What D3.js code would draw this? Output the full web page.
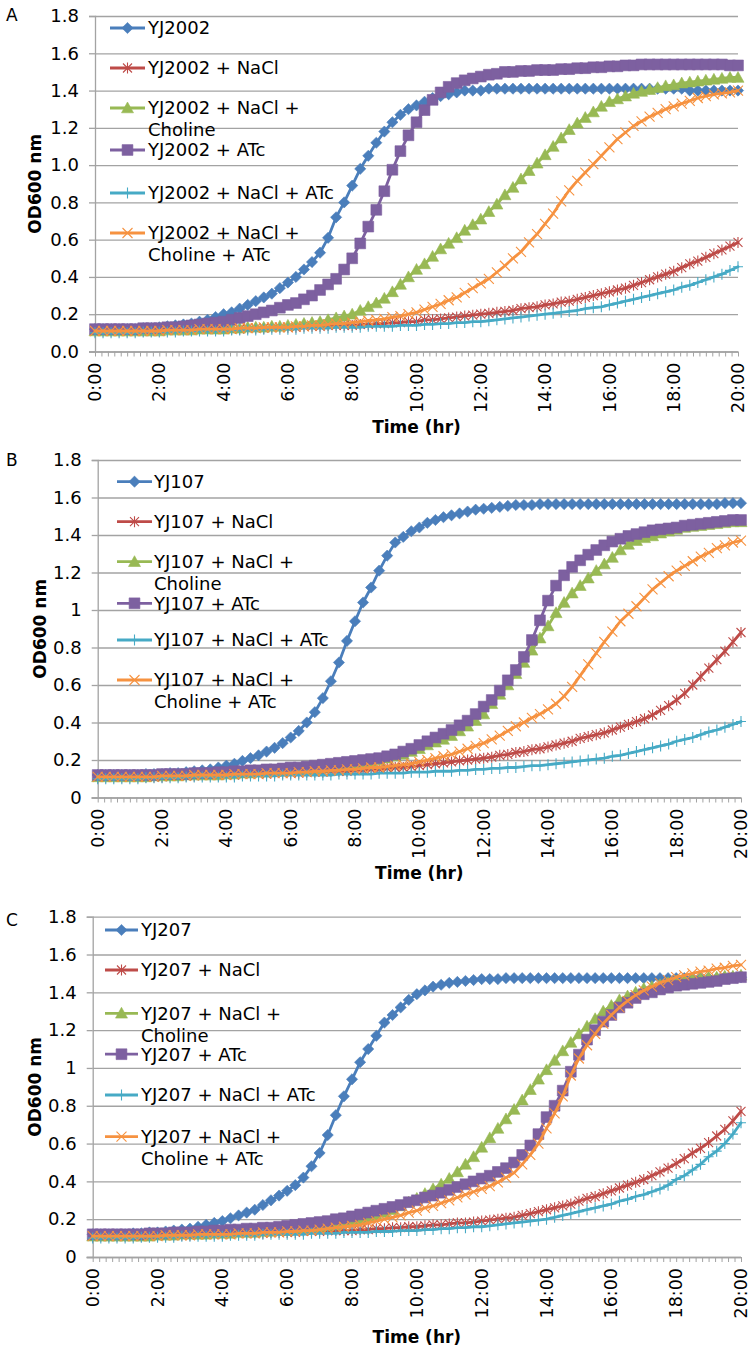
<!DOCTYPE html>
<html><head><meta charset="utf-8">
<script src="https://cdn.jsdelivr.net/npm/d3@7"></script>
<style>body{margin:0;background:#fff} svg{display:block} text{font-family:"DejaVu Sans",Verdana,sans-serif;fill:#000}</style>
</head><body><svg id="c" width="751" height="1352"></svg>
<script>
// ---------- data ----------
const timeLabels = ["0:00","2:00","4:00","6:00","8:00","10:00","12:00","14:00","16:00","18:00","20:00"];
const labelHours = [0,2,4,6,8,10,12,14,16,18,20];
const yTicks = [0,0.2,0.4,0.6,0.8,1,1.2,1.4,1.6,1.8];
const strains = ["YJ2002","YJ107","YJ207"];
const panelLetters = ["A","B","C"];
const legendSuffixes = [[""],[" + NaCl"],[" + NaCl +","Choline"],[" + ATc"],[" + NaCl + ATc"],[" + NaCl +","Choline + ATc"]];
// readings every 15 min, 0:00 .. 20:00
const times = d3.range(81).map(i => i * 0.25);

const a_base = [0.12,
0.12,0.12,0.12,0.12, 0.12,0.125,0.125,0.13, 0.135,0.14,0.145,0.15, 0.16,0.17,0.185,0.20,
0.21,0.23,0.25,0.27, 0.29,0.31,0.34,0.37, 0.40,0.44,0.48,0.53, 0.61,0.72,0.80,0.89,
0.98,1.05,1.12,1.18, 1.23,1.27,1.30,1.32, 1.34,1.36,1.37,1.38, 1.39,1.40,1.40,1.40,
1.41,1.41,1.41,1.41, 1.41,1.41,1.41,1.41, 1.41,1.41,1.41,1.41, 1.41,1.41,1.41,1.41,
1.41,1.41,1.41,1.41, 1.41,1.41,1.41,1.41, 1.41,1.40,1.40,1.40, 1.40,1.40,1.40,1.40];
const a_nacl = [0.11,
0.11,0.11,0.11,0.11, 0.11,0.11,0.11,0.11, 0.115,0.115,0.115,0.115, 0.12,0.12,0.12,0.12,
0.12,0.12,0.125,0.125, 0.125,0.13,0.13,0.13, 0.13,0.135,0.135,0.135, 0.14,0.14,0.14,0.14,
0.145,0.145,0.15,0.15, 0.155,0.155,0.16,0.16, 0.17,0.17,0.175,0.18, 0.185,0.19,0.195,0.20,
0.205,0.21,0.215,0.22, 0.23,0.235,0.24,0.25, 0.255,0.265,0.27,0.28, 0.29,0.30,0.31,0.32,
0.33,0.34,0.355,0.37, 0.385,0.40,0.415,0.43, 0.45,0.47,0.485,0.505, 0.525,0.545,0.565,0.585];
const a_nacl_chol = [0.11,
0.11,0.11,0.11,0.11, 0.11,0.11,0.11,0.11, 0.115,0.115,0.115,0.115, 0.12,0.12,0.12,0.12,
0.125,0.125,0.13,0.13, 0.13,0.135,0.135,0.14, 0.145,0.15,0.155,0.16, 0.17,0.18,0.19,0.20,
0.22,0.24,0.26,0.285, 0.32,0.36,0.40,0.44, 0.47,0.51,0.55,0.58, 0.61,0.65,0.68,0.71,
0.75,0.79,0.84,0.88, 0.925,0.97,1.01,1.055, 1.10,1.145,1.19,1.225, 1.255,1.285,1.315,1.34,
1.355,1.37,1.385,1.395, 1.405,1.415,1.425,1.43, 1.44,1.445,1.45,1.455, 1.46,1.465,1.47,1.47];
const a_atc = [0.12,
0.12,0.12,0.12,0.12, 0.12,0.125,0.125,0.125, 0.13,0.13,0.135,0.14, 0.145,0.15,0.155,0.16,
0.17,0.18,0.19,0.20, 0.21,0.22,0.235,0.25, 0.26,0.28,0.30,0.33, 0.36,0.39,0.44,0.50,
0.58,0.67,0.76,0.86, 0.975,1.075,1.16,1.23, 1.295,1.35,1.39,1.42, 1.44,1.455,1.465,1.475,
1.485,1.49,1.50,1.50, 1.505,1.505,1.51,1.51, 1.51,1.515,1.515,1.52, 1.52,1.525,1.525,1.53,
1.53,1.535,1.535,1.54, 1.54,1.54,1.54,1.54, 1.54,1.54,1.54,1.54, 1.54,1.54,1.535,1.535];
const a_nacl_atc = [0.10,
0.10,0.10,0.10,0.10, 0.10,0.105,0.105,0.105, 0.105,0.105,0.11,0.11, 0.11,0.11,0.11,0.11,
0.115,0.115,0.115,0.115, 0.12,0.12,0.12,0.12, 0.12,0.125,0.125,0.125, 0.125,0.13,0.13,0.13,
0.13,0.135,0.135,0.135, 0.135,0.14,0.14,0.14, 0.145,0.145,0.15,0.15, 0.155,0.155,0.16,0.16,
0.165,0.17,0.175,0.18, 0.185,0.19,0.195,0.20, 0.205,0.21,0.215,0.22, 0.23,0.235,0.24,0.25,
0.26,0.27,0.28,0.29, 0.30,0.31,0.32,0.33, 0.345,0.355,0.37,0.385, 0.40,0.415,0.435,0.455];
const a_nacl_chol_atc = [0.11,
0.11,0.11,0.11,0.11, 0.11,0.11,0.11,0.11, 0.115,0.115,0.115,0.115, 0.12,0.12,0.12,0.12,
0.12,0.125,0.125,0.125, 0.13,0.13,0.13,0.13, 0.135,0.135,0.14,0.14, 0.145,0.15,0.15,0.155,
0.16,0.165,0.17,0.175, 0.185,0.19,0.20,0.21, 0.225,0.24,0.255,0.275, 0.29,0.315,0.34,0.365,
0.39,0.425,0.46,0.50, 0.535,0.585,0.63,0.685, 0.74,0.805,0.865,0.915, 0.96,1.005,1.05,1.095,
1.14,1.175,1.21,1.235, 1.26,1.28,1.30,1.315, 1.33,1.345,1.36,1.37, 1.38,1.385,1.39,1.40];

const b_base = [0.12,
0.12,0.12,0.12,0.12, 0.12,0.125,0.125,0.125, 0.13,0.13,0.135,0.14, 0.145,0.15,0.16,0.17,
0.18,0.195,0.21,0.225, 0.245,0.265,0.29,0.32, 0.355,0.40,0.455,0.53, 0.62,0.72,0.835,0.94,
1.04,1.12,1.21,1.29, 1.36,1.39,1.42,1.44, 1.465,1.48,1.495,1.505, 1.515,1.525,1.535,1.54,
1.545,1.55,1.555,1.56, 1.56,1.56,1.565,1.565, 1.565,1.565,1.565,1.565, 1.565,1.565,1.565,1.565,
1.565,1.565,1.565,1.565, 1.565,1.565,1.565,1.565, 1.565,1.565,1.565,1.565, 1.565,1.57,1.57,1.57];
const b_nacl = [0.11,
0.11,0.11,0.11,0.11, 0.11,0.11,0.11,0.11, 0.115,0.115,0.115,0.115, 0.12,0.12,0.12,0.12,
0.12,0.125,0.125,0.125, 0.125,0.13,0.13,0.13, 0.13,0.135,0.135,0.135, 0.14,0.14,0.14,0.145,
0.145,0.15,0.15,0.155, 0.16,0.16,0.165,0.17, 0.175,0.18,0.185,0.19, 0.195,0.20,0.205,0.21,
0.215,0.225,0.23,0.24, 0.245,0.255,0.26,0.27, 0.28,0.29,0.30,0.315, 0.325,0.335,0.345,0.36,
0.375,0.39,0.405,0.42, 0.44,0.465,0.49,0.52, 0.555,0.60,0.645,0.69, 0.735,0.78,0.83,0.88];
const b_nacl_chol = [0.11,
0.11,0.11,0.11,0.11, 0.11,0.11,0.115,0.115, 0.115,0.115,0.12,0.12, 0.12,0.12,0.12,0.125,
0.125,0.13,0.13,0.135, 0.135,0.14,0.14,0.145, 0.15,0.15,0.155,0.16, 0.165,0.17,0.175,0.18,
0.185,0.19,0.20,0.21, 0.22,0.23,0.245,0.26, 0.28,0.295,0.31,0.33, 0.355,0.38,0.41,0.445,
0.50,0.55,0.60,0.66, 0.72,0.785,0.85,0.915, 0.985,1.04,1.09,1.13, 1.17,1.21,1.245,1.28,
1.32,1.35,1.37,1.385, 1.395,1.41,1.42,1.43, 1.44,1.445,1.45,1.455, 1.46,1.465,1.47,1.47];
const b_atc = [0.12,
0.12,0.12,0.12,0.12, 0.12,0.12,0.12,0.125, 0.125,0.125,0.125,0.13, 0.13,0.13,0.135,0.135,
0.14,0.14,0.145,0.145, 0.15,0.15,0.155,0.16, 0.16,0.165,0.17,0.175, 0.18,0.185,0.19,0.195,
0.20,0.205,0.21,0.22, 0.23,0.245,0.26,0.28, 0.30,0.32,0.34,0.36, 0.385,0.41,0.445,0.485,
0.52,0.57,0.625,0.68, 0.75,0.84,0.945,1.05, 1.13,1.185,1.23,1.265, 1.295,1.32,1.345,1.365,
1.38,1.395,1.405,1.415, 1.425,1.43,1.435,1.44, 1.45,1.455,1.46,1.465, 1.47,1.475,1.48,1.48];
const b_nacl_atc = [0.10,
0.10,0.10,0.10,0.10, 0.10,0.105,0.105,0.105, 0.105,0.105,0.11,0.11, 0.11,0.11,0.11,0.11,
0.11,0.115,0.115,0.115, 0.115,0.115,0.12,0.12, 0.12,0.12,0.12,0.12, 0.12,0.125,0.125,0.125,
0.125,0.125,0.13,0.13, 0.13,0.13,0.135,0.135, 0.135,0.14,0.14,0.14, 0.145,0.145,0.15,0.15,
0.155,0.155,0.16,0.16, 0.165,0.17,0.17,0.175, 0.18,0.185,0.19,0.195, 0.20,0.205,0.21,0.22,
0.225,0.235,0.245,0.255, 0.265,0.275,0.285,0.30, 0.31,0.32,0.335,0.35, 0.36,0.375,0.39,0.405];
const b_nacl_chol_atc = [0.11,
0.11,0.11,0.11,0.11, 0.11,0.11,0.11,0.115, 0.115,0.115,0.115,0.12, 0.12,0.12,0.12,0.12,
0.125,0.125,0.125,0.125, 0.13,0.13,0.13,0.13, 0.135,0.135,0.14,0.14, 0.145,0.145,0.15,0.15,
0.155,0.16,0.16,0.165, 0.17,0.175,0.18,0.19, 0.20,0.21,0.22,0.23, 0.245,0.26,0.275,0.29,
0.31,0.33,0.355,0.38, 0.40,0.425,0.445,0.47, 0.50,0.54,0.59,0.65, 0.71,0.77,0.83,0.885,
0.94,0.98,1.02,1.065, 1.11,1.145,1.18,1.21, 1.235,1.26,1.285,1.305, 1.33,1.345,1.36,1.37];

const c_base = [0.12,
0.12,0.12,0.12,0.12, 0.125,0.125,0.13,0.13, 0.135,0.14,0.145,0.15, 0.16,0.17,0.18,0.19,
0.205,0.22,0.235,0.25, 0.275,0.30,0.325,0.35, 0.38,0.42,0.48,0.55, 0.645,0.75,0.85,0.94,
1.03,1.10,1.17,1.24, 1.28,1.32,1.36,1.39, 1.41,1.43,1.44,1.45, 1.455,1.46,1.465,1.47,
1.47,1.47,1.475,1.475, 1.475,1.475,1.475,1.475, 1.475,1.475,1.475,1.475, 1.475,1.475,1.475,1.475,
1.475,1.475,1.475,1.475, 1.475,1.475,1.475,1.475, 1.475,1.475,1.475,1.475, 1.475,1.48,1.48,1.48];
const c_nacl = [0.11,
0.11,0.11,0.11,0.11, 0.11,0.11,0.11,0.11, 0.115,0.115,0.115,0.115, 0.12,0.12,0.12,0.12,
0.12,0.125,0.125,0.125, 0.125,0.13,0.13,0.13, 0.13,0.135,0.135,0.135, 0.14,0.14,0.14,0.14,
0.145,0.145,0.15,0.15, 0.155,0.155,0.16,0.16, 0.165,0.17,0.17,0.175, 0.18,0.18,0.185,0.19,
0.195,0.20,0.205,0.21, 0.22,0.23,0.24,0.25, 0.26,0.27,0.28,0.295, 0.31,0.32,0.335,0.35,
0.365,0.38,0.395,0.41, 0.43,0.45,0.47,0.495, 0.52,0.55,0.575,0.605, 0.64,0.675,0.72,0.77];
const c_nacl_chol = [0.11,
0.11,0.11,0.11,0.11, 0.11,0.11,0.11,0.115, 0.115,0.115,0.12,0.12, 0.12,0.12,0.125,0.125,
0.125,0.13,0.13,0.13, 0.135,0.135,0.14,0.14, 0.145,0.15,0.155,0.16, 0.165,0.17,0.18,0.19,
0.20,0.21,0.22,0.235, 0.25,0.27,0.29,0.31, 0.335,0.36,0.385,0.415, 0.45,0.49,0.53,0.58,
0.63,0.68,0.73,0.78, 0.83,0.885,0.94,0.99, 1.04,1.09,1.135,1.18, 1.22,1.26,1.30,1.33,
1.36,1.38,1.40,1.42, 1.43,1.44,1.45,1.46, 1.465,1.47,1.475,1.48, 1.48,1.485,1.485,1.49];
const c_atc = [0.12,
0.12,0.12,0.12,0.12, 0.12,0.12,0.125,0.125, 0.125,0.13,0.13,0.13, 0.135,0.135,0.14,0.14,
0.145,0.145,0.15,0.15, 0.155,0.155,0.16,0.165, 0.17,0.175,0.18,0.185, 0.19,0.20,0.205,0.215,
0.225,0.235,0.245,0.255, 0.265,0.275,0.29,0.30, 0.315,0.325,0.34,0.355, 0.37,0.385,0.40,0.415,
0.43,0.45,0.47,0.50, 0.54,0.59,0.65,0.74, 0.80,0.88,0.98,1.07, 1.15,1.20,1.245,1.28,
1.32,1.345,1.37,1.39, 1.40,1.415,1.425,1.435, 1.44,1.445,1.45,1.455, 1.46,1.47,1.475,1.48];
const c_nacl_atc = [0.10,
0.10,0.10,0.10,0.10, 0.10,0.105,0.105,0.105, 0.105,0.105,0.11,0.11, 0.11,0.11,0.11,0.11,
0.115,0.115,0.115,0.115, 0.12,0.12,0.12,0.12, 0.12,0.12,0.125,0.125, 0.125,0.125,0.13,0.13,
0.13,0.13,0.135,0.135, 0.135,0.14,0.14,0.14, 0.145,0.145,0.15,0.15, 0.155,0.155,0.16,0.16,
0.165,0.17,0.175,0.18, 0.185,0.19,0.195,0.20, 0.21,0.22,0.23,0.24, 0.25,0.26,0.27,0.28,
0.295,0.305,0.32,0.33, 0.345,0.36,0.38,0.41, 0.43,0.46,0.49,0.53, 0.56,0.60,0.65,0.71];
const c_nacl_chol_atc = [0.11,
0.11,0.11,0.11,0.11, 0.11,0.11,0.11,0.11, 0.115,0.115,0.115,0.115, 0.12,0.12,0.12,0.12,
0.12,0.125,0.125,0.125, 0.13,0.13,0.13,0.135, 0.135,0.14,0.14,0.145, 0.15,0.155,0.16,0.165,
0.17,0.18,0.19,0.20, 0.21,0.22,0.235,0.245, 0.26,0.27,0.285,0.30, 0.315,0.33,0.345,0.36,
0.375,0.395,0.42,0.445, 0.49,0.54,0.60,0.68, 0.76,0.85,0.96,1.05, 1.12,1.18,1.235,1.28,
1.32,1.355,1.385,1.41, 1.43,1.45,1.465,1.48, 1.49,1.50,1.51,1.515, 1.525,1.53,1.54,1.545];

const panelSeries = [
  [a_base, a_nacl, a_nacl_chol, a_atc, a_nacl_atc, a_nacl_chol_atc],
  [b_base, b_nacl, b_nacl_chol, b_atc, b_nacl_atc, b_nacl_chol_atc],
  [c_base, c_nacl, c_nacl_chol, c_atc, c_nacl_atc, c_nacl_chol_atc]
];

// ---------- layout / style ----------
const layouts = [
  {left:95, right:738, top:16, bottom:351.5, letter:[6,21], yTitleX:35, xTitleDy:76, yFmt:d3.format(".1f"),
   leg:{x1:110, x2:145, tx:148, offs:[12,52,92,134,177,217]}},
  {left:97.7, right:741, top:460, bottom:797.5, letter:[6,466], yTitleX:40, xTitleDy:76, yFmt:d3.format("~g"),
   leg:{x1:117, x2:152, tx:154, offs:[21.7,61.7,101.7,143.3,180,220]}},
  {left:92.7, right:741, top:916.7, bottom:1257, letter:[6,926], yTitleX:35, xTitleDy:80, yFmt:d3.format("~g"),
   leg:{x1:105, x2:138, tx:141, offs:[13.3,53.3,96.6,137.5,178.3,220]}}
];
const colors = ["#4A7EBB","#BE4B48","#98B954","#7D60A0","#46AAC5","#F69240"];
const markers = [
  {d:"M0,-5.6L5.6,0L0,5.6L-5.6,0Z", fill:true},
  {d:"M-4.5,-4.5L4.5,4.5M-4.5,4.5L4.5,-4.5M0,-5.5V5.5", fill:false},
  {d:"M0,-6L6,4.8L-6,4.8Z", fill:true},
  {d:"M-5.4,-5.4H5.4V5.4H-5.4Z", fill:true},
  {d:"M0,-5.5V5.5M-5,0H5", fill:false},
  {d:"M-5,-5L5,5M-5,5L5,-5", fill:false}
];
const gridColor = "#a3a3a3";

const svg = d3.select("#c");

layouts.forEach((L, pi) => {
  const g = svg.append("g");
  const x = d3.scaleLinear().domain([0,20]).range([L.left, L.right]);
  const y = d3.scaleLinear().domain([0,1.8]).range([L.bottom, L.top]);
  const w = L.right - L.left;

  // gridlines
  const grid = g.append("g").attr("transform", `translate(${L.left},0)`)
    .call(d3.axisLeft(y).tickValues(yTicks).tickSize(-w).tickFormat(""));
  grid.select(".domain").remove();
  grid.selectAll("line").attr("stroke", gridColor).attr("stroke-width", 1.3);
  const yAx = g.append("g").attr("transform", `translate(${L.left},0)`)
    .call(d3.axisLeft(y).tickValues(yTicks).tickSize(6).tickPadding(10).tickFormat(L.yFmt));
  yAx.select(".domain").attr("stroke", gridColor).attr("stroke-width", 1.3);
  yAx.selectAll("line").attr("stroke", gridColor).attr("stroke-width", 1.3);
  yAx.selectAll("text").attr("font-size", 18).attr("fill", "#000")
     .style("font-family", '"DejaVu Sans",Verdana,sans-serif');

  // x axis: minor ticks
  const xMinor = g.append("g").attr("transform", `translate(0,${L.bottom})`)
    .call(d3.axisBottom(x).tickValues(d3.range(0, 20.001, 0.2)).tickSize(5).tickFormat(""));
  xMinor.select(".domain").attr("stroke", gridColor).attr("stroke-width", 1.3).attr("d", `M${L.left-6},0.5H${L.right}`);
  xMinor.selectAll("line").attr("stroke", gridColor).attr("stroke-width", 1);
  // x labels
  const xLab = g.append("g").attr("transform", `translate(0,${L.bottom})`)
    .call(d3.axisBottom(x).tickValues(labelHours).tickSize(0).tickFormat((d,i) => timeLabels[i]));
  xLab.select(".domain").remove();
  xLab.selectAll("text").attr("font-size", 17.5).attr("fill", "#000")
    .style("font-family", '"DejaVu Sans",Verdana,sans-serif')
    .attr("text-anchor", "end").attr("transform", "translate(0,11) rotate(-90)")
    .attr("x", 0).attr("y", 0).attr("dy", "0.32em");

  // titles
  g.append("text").attr("x", (L.left + L.right) / 2).attr("y", L.bottom + L.xTitleDy).attr("dy", "0.35em")
    .attr("text-anchor", "middle").attr("font-size", 17).attr("font-weight", "bold").text("Time (hr)");
  g.append("text").attr("transform", `translate(${L.yTitleX},${(L.top + L.bottom) / 2}) rotate(-90)`)
    .attr("dy", "0.35em").attr("text-anchor", "middle").attr("font-size", 17).attr("font-weight", "bold").text("OD600 nm");
  g.append("text").attr("x", L.letter[0]).attr("y", L.letter[1]).attr("font-size", 17).text(panelLetters[pi]);

  // series
  const line = d3.line().x((d, i) => x(times[i])).y(d => y(d));
  panelSeries[pi].forEach((vals, si) => {
    const sg = g.append("g");
    sg.append("path").attr("d", line(vals)).attr("fill", "none").attr("stroke", colors[si])
      .attr("stroke-width", 2.8).attr("stroke-linejoin", "round").attr("stroke-linecap", "round");
    const m = markers[si];
    sg.selectAll("path.m").data(vals).join("path").attr("class", "m")
      .attr("transform", (d, i) => `translate(${x(times[i])},${y(d)})`)
      .attr("d", m.d)
      .attr("fill", m.fill ? colors[si] : "none")
      .attr("stroke", colors[si]).attr("stroke-width", m.fill ? 0.6 : 1.1);
  });

  // legend
  legendSuffixes.forEach((lines, si) => {
    const ly = L.top + L.leg.offs[si];
    const lg = g.append("g");
    lg.append("line").attr("x1", L.leg.x1).attr("x2", L.leg.x2).attr("y1", ly).attr("y2", ly)
      .attr("stroke", colors[si]).attr("stroke-width", 2.8);
    const m = markers[si];
    lg.append("path").attr("transform", `translate(${(L.leg.x1 + L.leg.x2) / 2},${ly})`).attr("d", m.d)
      .attr("fill", m.fill ? colors[si] : "none").attr("stroke", colors[si]).attr("stroke-width", m.fill ? 0.6 : 1.1);
    const t = lg.append("text").attr("x", L.leg.tx).attr("y", ly).attr("font-size", 18);
    lines.forEach((s, li) => {
      t.append("tspan").attr("x", L.leg.tx).attr("dy", li === 0 ? "0.36em" : "22px")
        .text(li === 0 ? strains[pi] + s : s);
    });
  });
});
</script>
</body></html>
